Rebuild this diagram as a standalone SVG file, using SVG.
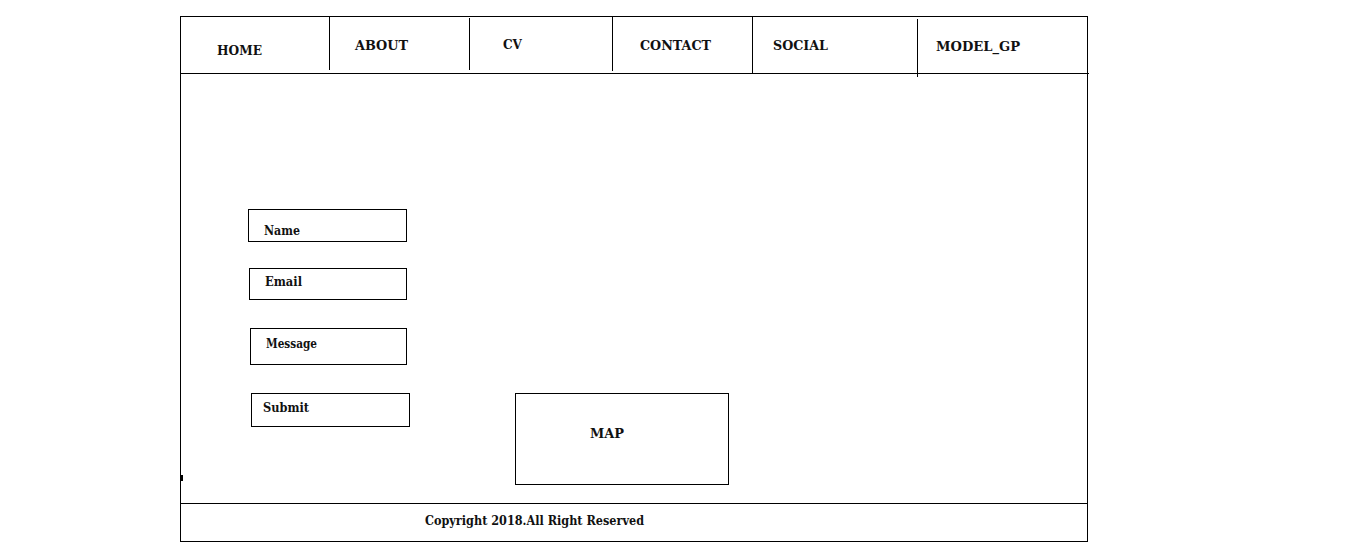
<svg xmlns="http://www.w3.org/2000/svg" width="1357" height="552" viewBox="0 0 1357 552">
<style>
.ln{stroke:#000;stroke-width:1;fill:none}
.bx{stroke:#000;stroke-width:1;fill:#fff}
text{font-family:"DejaVu Serif","Liberation Serif",serif;font-weight:bold;font-size:12.5px;fill:#111}
</style>
<rect width="1357" height="552" fill="#fff"/>
<g id="frame">
<rect class="ln" x="180.5" y="16.5" width="907" height="525"/>
<line class="ln" x1="180" y1="73.5" x2="1089" y2="73.5"/>
<line class="ln" x1="180" y1="503.5" x2="1088" y2="503.5"/>
<rect x="180" y="475" width="3" height="6" fill="#000"/>
</g>
<g id="nav">
<line class="ln" x1="329.5" y1="16" x2="329.5" y2="70"/>
<line class="ln" x1="469.5" y1="18" x2="469.5" y2="70"/>
<line class="ln" x1="612.5" y1="16" x2="612.5" y2="71"/>
<line class="ln" x1="752.5" y1="16" x2="752.5" y2="73"/>
<line class="ln" x1="917.5" y1="19" x2="917.5" y2="77"/>
<g id="home"><text x="217" y="55" textLength="45" lengthAdjust="spacingAndGlyphs">HOME</text></g>
<g id="about"><text x="355" y="50" textLength="53" lengthAdjust="spacingAndGlyphs">ABOUT</text></g>
<g id="cv"><text x="503" y="49" textLength="19" lengthAdjust="spacingAndGlyphs">CV</text></g>
<g id="contact"><text x="640" y="50" textLength="71" lengthAdjust="spacingAndGlyphs">CONTACT</text></g>
<g id="social"><text x="773" y="50" textLength="55" lengthAdjust="spacingAndGlyphs">SOCIAL</text></g>
<g id="model_gp"><text x="936" y="51" textLength="84" lengthAdjust="spacingAndGlyphs">MODEL_GP</text></g>
</g>
<g id="name"><rect class="bx" x="248.5" y="209.5" width="158" height="32"/><text x="264" y="235" textLength="36" lengthAdjust="spacingAndGlyphs">Name</text></g>
<g id="email"><rect class="bx" x="249.5" y="268.5" width="157" height="31"/><text x="265" y="286" textLength="37" lengthAdjust="spacingAndGlyphs">Email</text></g>
<g id="message"><rect class="bx" x="250.5" y="328.5" width="156" height="36"/><text x="266" y="348" textLength="51" lengthAdjust="spacingAndGlyphs">Message</text></g>
<g id="submit"><rect class="bx" x="251.5" y="393.5" width="158" height="33"/><text x="263" y="412" textLength="46" lengthAdjust="spacingAndGlyphs">Submit</text></g>
<g id="map"><rect class="bx" x="515.5" y="393.5" width="213" height="91"/><text x="590" y="438" textLength="34" lengthAdjust="spacingAndGlyphs">MAP</text></g>
<g id="footer"><text x="425" y="525" textLength="219" lengthAdjust="spacingAndGlyphs">Copyright 2018.All Right Reserved</text></g>
<g id="connectors"></g>
</svg>
